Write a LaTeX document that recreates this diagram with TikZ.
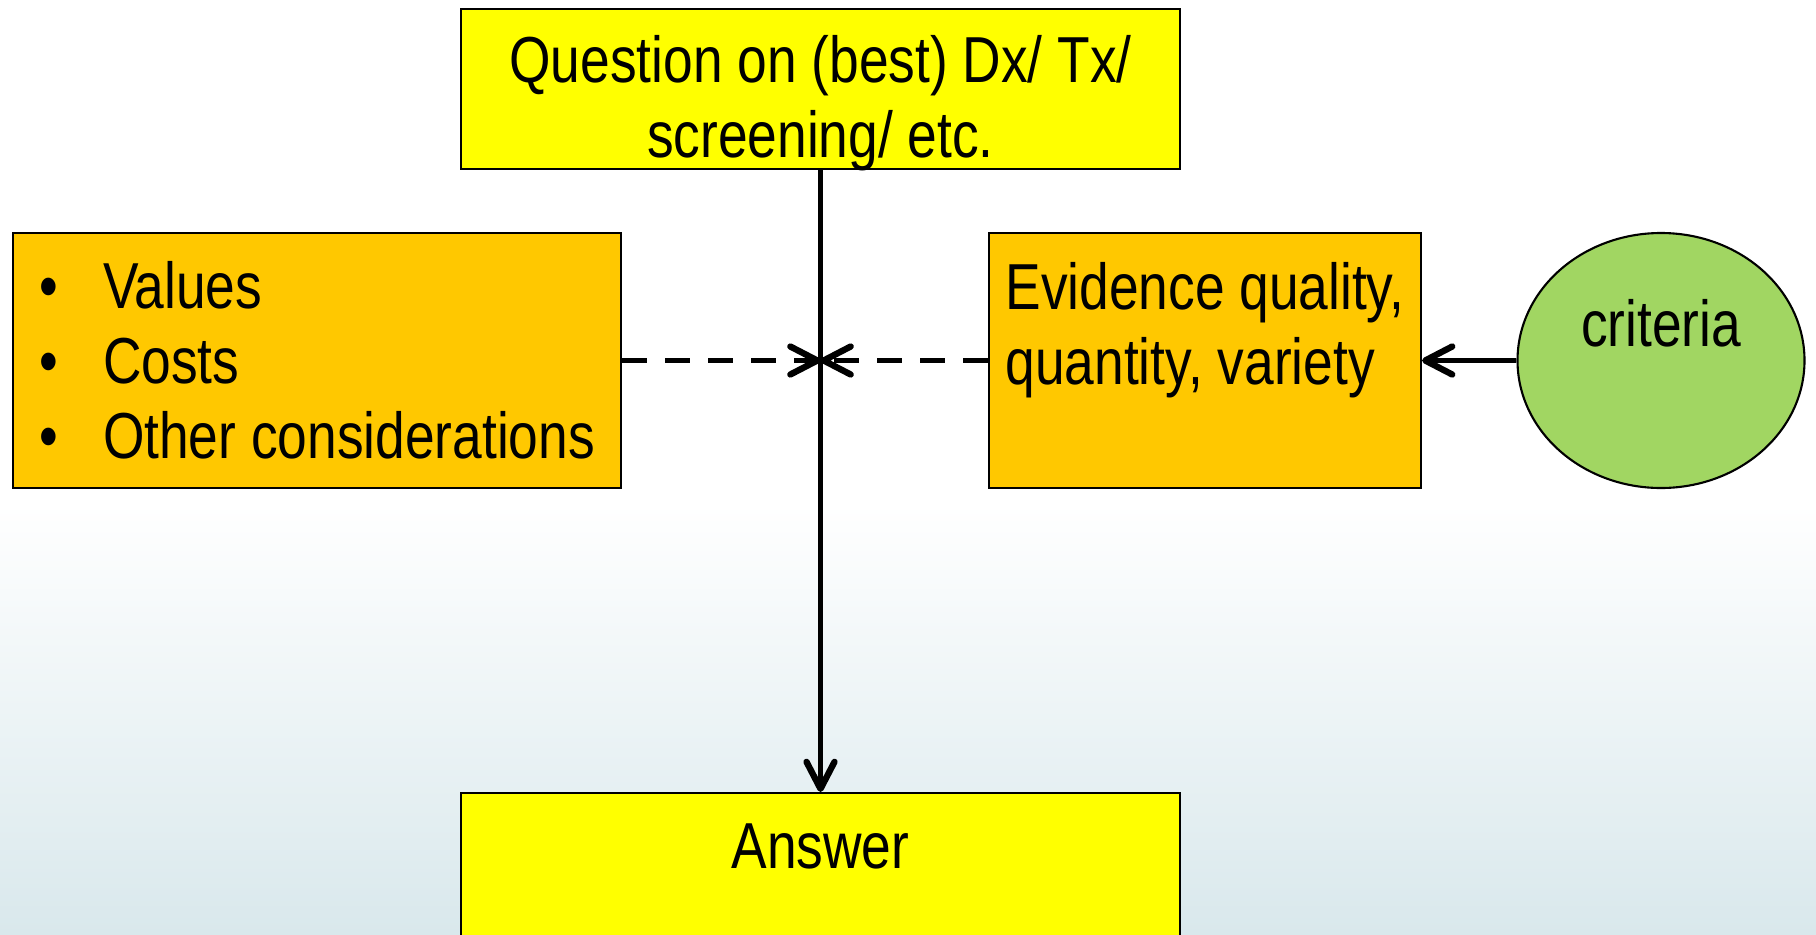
\documentclass[tikz,border=0pt]{standalone}
\usepackage{fontspec}
\setmainfont{Liberation Sans}[FakeStretch=0.82]
\usetikzlibrary{arrows.meta,shapes.geometric}
\definecolor{boxyellow}{RGB}{255,255,0}
\definecolor{boxorange}{RGB}{255,200,0}
\definecolor{ellgreen}{RGB}{161,214,98}
\definecolor{bgblue}{RGB}{217,232,236}

\begin{document}
\begin{tikzpicture}[font=\fontsize{18.5}{21.3}\selectfont, line width=1.4pt,
    >={Straight Barb[length=0.27cm, width=0.28cm, line width=1.8pt, round]},
    yellowbox/.style={draw, line width=0.6pt, fill=boxyellow, minimum width=7.19cm, align=center},
    orangebox/.style={draw, line width=0.6pt, fill=boxorange, minimum height=2.55cm, align=left},
    greenell/.style={ellipse, draw, line width=0.6pt, fill=ellgreen, minimum width=2.87cm,
      minimum height=2.55cm, inner sep=0pt, align=center},
    dashline/.style={dash pattern=on 0.25cm off 0.18cm}]
  \clip (0,0) rectangle (18.16,9.34);
  % background
  \fill[white] (0,4.3) rectangle (18.16,9.34);
  \shade[top color=white, bottom color=bgblue] (0,0) rectangle (18.16,4.3);
  % boxes
  \node[yellowbox, minimum height=1.6cm, inner ysep=0pt, text height=1.36cm, text depth=0pt]
    (question) at (8.205,8.45) {Question on (best) Dx/ Tx/\\screening/ etc.};
  \node[orangebox, minimum width=6.08cm] (values) at (3.17,5.735)
    {\makebox[0.64cm][l]{\textbullet}Values\\\makebox[0.64cm][l]{\textbullet}Costs\\\makebox[0.64cm][l]{\textbullet}Other considerations};
  \node[orangebox, minimum width=4.32cm] (evidence) at (12.05,5.735)
    {Evidence quality,\\quantity, variety\\~};
  \node[greenell] (criteria) at (16.61,5.735) {criteria\\~};
  \node[yellowbox, minimum height=1.8cm, anchor=north] (answer) at (8.205,1.42) {Answer\\~};
  \coordinate (meet) at (question.south |- values.east);
  % connectors
  \draw[->] (question) -- (answer);
  \draw[->, dashline] (values.east) -- (meet);
  \draw[->, dashline] (evidence.west) -- (meet);
  \draw[->] (criteria) -- (evidence);
\end{tikzpicture}
\end{document}
